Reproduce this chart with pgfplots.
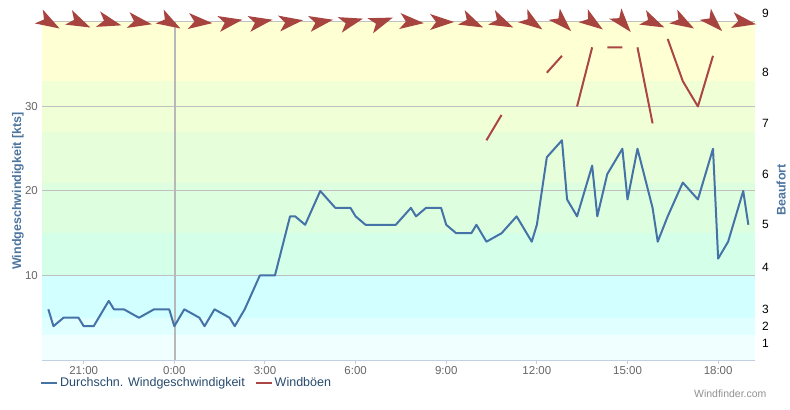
\documentclass[border=0pt]{standalone}
\usepackage{fontspec}
\setmainfont{Liberation Sans}
\usepackage{pgfplots}
\pgfplotsset{compat=1.18}
\definecolor{blueline}{HTML}{4572A7}
\definecolor{redline}{HTML}{AA4643}
\definecolor{arrowc}{HTML}{A84440}
\definecolor{titlec}{HTML}{4D759E}
\definecolor{tickc}{HTML}{666666}
\definecolor{legc}{HTML}{274B6D}
\definecolor{gridc}{HTML}{C0C0C0}
\definecolor{axisc}{HTML}{C0D0E0}
\definecolor{vlinec}{HTML}{B8B8B8}
\definecolor{credc}{HTML}{909090}
\definecolor{b0}{HTML}{F0FFFF}
\definecolor{b1}{HTML}{E0FFFF}
\definecolor{b2}{HTML}{D2FFFF}
\definecolor{b3}{HTML}{D4FFE9}
\definecolor{b4}{HTML}{DEFFDF}
\definecolor{b5}{HTML}{E6FFDA}
\definecolor{b6}{HTML}{F1FFD6}
\definecolor{b7}{HTML}{FFFFD4}
\pgfdeclareplotmark{windarrow}{%
  \pgfpathmoveto{\pgfpoint{13bp}{0bp}}%
  \pgfpathlineto{\pgfpoint{-11bp}{8bp}}%
  \pgfpathlineto{\pgfpoint{-5bp}{0bp}}%
  \pgfpathlineto{\pgfpoint{-11bp}{-8bp}}%
  \pgfpathclose
  \pgfusepathqfill
}
\begin{document}
\begin{tikzpicture}
\begin{axis}[
  set layers,
  at={(0,0)}, anchor=south west,
  scale only axis, width=713bp, height=338bp,
  xmin=-4.38, xmax=19.22, ymin=0, ymax=40,
  clip=false,
  axis x line*=bottom, axis y line*=left,
  x axis line style={draw=axisc, line width=1bp},
  y axis line style={draw=none},
  tick align=outside,
  major tick length=4bp,
  xtick={-3,0,3,6,9,12,15,18},
  xticklabels={21:00,0:00,3:00,6:00,9:00,12:00,15:00,18:00},
  xtick style={draw=axisc, line width=1bp},
  ytick={10,20,30,40},
  yticklabels={10,20,30,{}},
  ytick style={draw=none},
  ymajorgrids,
  grid style={draw=gridc, line width=1bp},
  tick label style={font=\fontsize{11.5bp}{13bp}\selectfont, text=tickc},
  yticklabel style={inner sep=0pt},
  xticklabel style={inner sep=2bp},
  ylabel={Windgeschwindigkeit [kts]},
  ylabel style={font=\bfseries\fontsize{12.5bp}{14bp}\selectfont, text=titlec, at={(axis description cs:-0.0337,0.5)}, anchor=center},
  legend style={at={(axis description cs:-0.0028,-0.068)}, anchor=west, draw=none, fill=none, inner sep=0pt, legend columns=2, font=\fontsize{12.5bp}{15bp}\selectfont, text=legc, /tikz/every even column/.append style={column sep=8bp}},
  legend cell align=left,
  legend image code/.code={\draw[#1, line width=2bp] (0bp,0bp) -- (16bp,0bp);},
]
% Beaufort bands
\addplot[fill=b0, draw=none, on layer=axis background, forget plot] coordinates {(-4.38,0) (19.22,0) (19.22,3) (-4.38,3)} -- cycle;
\addplot[fill=b1, draw=none, on layer=axis background, forget plot] coordinates {(-4.38,3) (19.22,3) (19.22,5) (-4.38,5)} -- cycle;
\addplot[fill=b2, draw=none, on layer=axis background, forget plot] coordinates {(-4.38,5) (19.22,5) (19.22,10) (-4.38,10)} -- cycle;
\addplot[fill=b3, draw=none, on layer=axis background, forget plot] coordinates {(-4.38,10) (19.22,10) (19.22,15) (-4.38,15)} -- cycle;
\addplot[fill=b4, draw=none, on layer=axis background, forget plot] coordinates {(-4.38,15) (19.22,15) (19.22,21) (-4.38,21)} -- cycle;
\addplot[fill=b5, draw=none, on layer=axis background, forget plot] coordinates {(-4.38,21) (19.22,21) (19.22,27) (-4.38,27)} -- cycle;
\addplot[fill=b6, draw=none, on layer=axis background, forget plot] coordinates {(-4.38,27) (19.22,27) (19.22,33) (-4.38,33)} -- cycle;
\addplot[fill=b7, draw=none, on layer=axis background, forget plot] coordinates {(-4.38,33) (19.22,33) (19.22,40) (-4.38,40)} -- cycle;
% day separator
\addplot[vlinec, line width=2bp, on layer=axis grid, forget plot] coordinates {(0.03,0) (0.03,40)};
% average wind
\addplot[blueline, line width=2bp, line join=round] table[x=t,y=v] {
t v
-4.17 6
-4.0 4
-3.67 5
-3.17 5
-3.0 4
-2.67 4
-2.17 7
-2.0 6
-1.67 6
-1.17 5
-0.67 6
-0.17 6
0 4
0.33 6
0.83 5
1.0 4
1.33 6
1.83 5
2.0 4
2.33 6
2.83 10
3.33 10
3.83 17
4.0 17
4.33 16
4.83 20
5.33 18
5.83 18
6.0 17
6.33 16
7.33 16
7.83 18
8.0 17
8.33 18
8.83 18
9.0 16
9.33 15
9.83 15
10.0 16
10.33 14
10.83 15
11.33 17
11.83 14
12.0 16
12.33 24
12.83 26
13.0 19
13.33 17
13.83 23
14.0 17
14.33 22
14.83 25
15.0 19
15.33 25
15.83 18
16.0 14
16.33 17
16.83 21
17.33 19
17.83 25
18.0 12
18.33 14
18.83 20
19.0 16
};
\addlegendentry{Durchschn. Windgeschwindigkeit}
% gusts
\addplot[redline, line width=2bp, line join=round, unbounded coords=jump] table[x=t,y=v] {
t v
10.33 26
10.83 29
nan nan
12.33 34
12.83 36
nan nan
13.33 30
13.83 37
nan nan
14.33 37
14.83 37
nan nan
15.33 37
15.83 28
nan nan
16.33 38
16.83 33
17.33 30
17.83 36
};
\addlegendentry{Windböen}
% direction arrows
\addplot[scatter, only marks, mark=windarrow, forget plot,
  scatter/use mapped color={draw=none, fill=arrowc},
  visualization depends on={\thisrow{a} \as \ang},
  scatter/@pre marker code/.append style={/tikz/rotate=\ang}]
  table[x=t,y=y] {
t y a
-4.17 40 -30
-3.17 40 -25
-2.17 40 -15
-1.17 40 -10
-0.17 40 -30
0.83 40 -5
1.83 40 10
2.83 40 10
3.83 40 8
4.83 40 10
5.83 40 15
6.83 40 20
7.83 40 -5
8.83 40 0
9.83 40 -25
10.83 40 -25
11.83 40 -35
12.83 40 -45
13.83 40 -35
14.83 40 -50
15.83 40 -25
16.83 40 -30
17.83 40 -45
18.83 40 -10
};
\node[anchor=east, xshift=15bp, yshift=-34bp, font=\fontsize{10.5bp}{12bp}\selectfont, text=credc] at (rel axis cs:1,0) {Windfinder.com};
\end{axis}
\begin{axis}[
  at={(0,0)}, anchor=south west,
  scale only axis, width=713bp, height=354.9bp,
  xmin=0, xmax=1, ymin=0, ymax=42,
  axis x line=none, axis y line*=right,
  y axis line style={draw=none},
  ytick style={draw=none}, major tick length=0pt,
  ytick={2,4,6,11,16,22,28,34,41},
  yticklabels={1,2,3,4,5,6,7,8,9},
  yticklabel style={font=\fontsize{12bp}{14bp}\selectfont, text=black, inner sep=0pt, anchor=west, xshift=7bp},
  ylabel={Beaufort},
  ylabel style={font=\bfseries\fontsize{12.5bp}{14bp}\selectfont, text=titlec, at={(axis description cs:1.0365,0.479)}, anchor=center},
]
\addplot[draw=none] coordinates {(0,0) (1,42)};
\end{axis}
\pgfresetboundingbox
\path[use as bounding box] (-42bp,-50bp) rectangle (748bp,360bp);
\end{tikzpicture}
\end{document}
